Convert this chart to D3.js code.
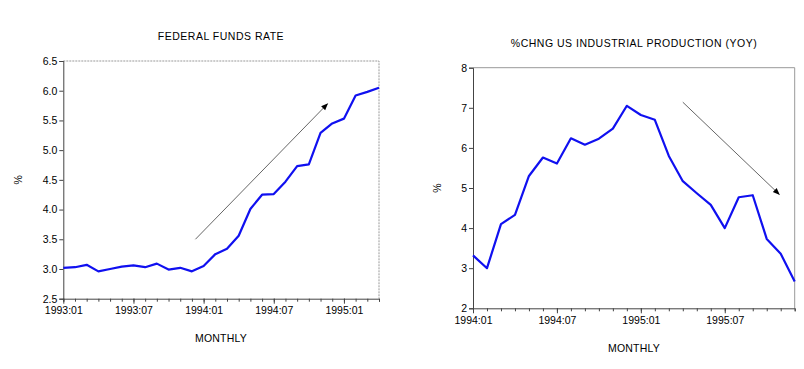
<!DOCTYPE html>
<html><head><meta charset="utf-8">
<script src="https://cdn.jsdelivr.net/npm/d3@7"></script>
<style>body{margin:0;background:#fff}svg{display:block;font-family:"Liberation Sans",Arial,sans-serif}</style>
</head><body><svg id="c" width="804" height="369"></svg>
<script>
// ---- data ----
const ffMonths = ["1993:01","1993:02","1993:03","1993:04","1993:05","1993:06","1993:07","1993:08","1993:09","1993:10","1993:11","1993:12",
  "1994:01","1994:02","1994:03","1994:04","1994:05","1994:06","1994:07","1994:08","1994:09","1994:10","1994:11","1994:12",
  "1995:01","1995:02","1995:03","1995:04"];
const ffValues = [3.02,3.03,3.07,2.96,3.00,3.04,3.06,3.03,3.09,2.99,3.02,2.96,
  3.05,3.25,3.34,3.56,4.01,4.25,4.26,4.47,4.73,4.76,5.29,5.45,
  5.53,5.92,5.98,6.05];
const ffTicksY = [2.5,3.0,3.5,4.0,4.5,5.0,5.5,6.0,6.5];
const ffTickLabelsX = ["1993:01","1993:07","1994:01","1994:07","1995:01"];
const ffArrow = [[11.3,3.5],[22.6,5.78]];   // [month index, value]

const ipMonths = ["1994:01","1994:02","1994:03","1994:04","1994:05","1994:06","1994:07","1994:08","1994:09","1994:10","1994:11","1994:12",
  "1995:01","1995:02","1995:03","1995:04","1995:05","1995:06","1995:07","1995:08","1995:09","1995:10","1995:11","1995:12"];
const ipValues = [3.32,3.00,4.10,4.33,5.30,5.76,5.61,6.24,6.08,6.23,6.48,7.05,
  6.82,6.70,5.80,5.17,4.87,4.58,4.00,4.77,4.82,3.73,3.36,2.67];
const ipTicksY = [2,3,4,5,6,7,8];
const ipTickLabelsX = ["1994:01","1994:07","1995:01","1995:07"];
const ipArrow = [[15.0,7.14],[21.9,4.84]];

const svg = d3.select("#c");
const defs = svg.append("defs");
defs.append("marker").attr("id","ah").attr("viewBox","0 0 10 10").attr("refX",9).attr("refY",5)
  .attr("markerWidth",7).attr("markerHeight",7).attr("orient","auto-start-reverse").attr("markerUnits","userSpaceOnUse")
  .append("path").attr("d","M0,1L10,5L0,9z").attr("fill","#000");

function panel(cfg){
  const g = svg.append("g");
  const x = d3.scaleLinear().domain([0,cfg.months.length-1]).range([cfg.left,cfg.right]);
  const y = d3.scaleLinear().domain(cfg.yDomain).range([cfg.bottom,cfg.top]);
  // frame top/right
  g.append("path").attr("d",`M${cfg.left},${cfg.top}H${cfg.right}V${cfg.bottom}`)
    .attr("fill","none").attr("stroke","#999").attr("stroke-width",1)
    .attr("stroke-dasharray",cfg.dashFrame?"2,1":null);
  // y axis
  const ya = d3.axisLeft(y).tickValues(cfg.ticksY).tickFormat(cfg.yFmt).tickSize(4).tickPadding(2);
  const yg = g.append("g").attr("transform",`translate(${cfg.left},0)`).call(ya);
  yg.select(".domain").attr("stroke","#444");
  yg.selectAll(".tick line").attr("stroke","#444");
  yg.selectAll("text").attr("font-size","10.5px").attr("fill","#000").attr("font-family","Liberation Sans, Arial, sans-serif");
  // x axis minor ticks
  const idx = d3.range(cfg.months.length);
  const xa = d3.axisBottom(x).tickValues(idx).tickSize(3).tickFormat("");
  const xg = g.append("g").attr("transform",`translate(0,${cfg.bottom})`).call(xa);
  xg.select(".domain").attr("stroke","#444");
  xg.selectAll(".tick line").attr("stroke","#444");
  const majors = cfg.labelsX.map(l=>cfg.months.indexOf(l));
  const xm = d3.axisBottom(x).tickValues(majors).tickSize(5).tickPadding(3).tickFormat(i=>cfg.months[i]);
  const xmg = g.append("g").attr("transform",`translate(0,${cfg.bottom})`).call(xm);
  xmg.select(".domain").remove();
  xmg.selectAll(".tick line").attr("stroke","#444");
  xmg.selectAll("text").attr("font-size","10.5px").attr("fill","#000").attr("font-family","Liberation Sans, Arial, sans-serif");
  // line
  g.append("path").datum(cfg.values)
    .attr("d",d3.line().x((d,i)=>x(i)).y(d=>y(d)))
    .attr("fill","none").attr("stroke","#1010f0").attr("stroke-width",2.2).attr("stroke-linejoin","round");
  // arrow
  g.append("line").attr("x1",x(cfg.arrow[0][0])).attr("y1",y(cfg.arrow[0][1]))
    .attr("x2",x(cfg.arrow[1][0])).attr("y2",y(cfg.arrow[1][1]))
    .attr("stroke","#555").attr("stroke-width",0.9).attr("marker-end","url(#ah)");
  // titles
  g.append("text").attr("x",cfg.titleX).attr("y",cfg.titleY).attr("text-anchor","middle")
    .attr("font-size","10.5px").attr("letter-spacing","0.5px").text(cfg.title);
  g.append("text").attr("x",cfg.titleX).attr("y",cfg.xLabelY).attr("text-anchor","middle")
    .attr("font-size","10.5px").attr("letter-spacing","0.2px").text("MONTHLY");
  g.append("text").attr("transform",`translate(${cfg.pctX},${(cfg.top+cfg.bottom)/2}) rotate(-90)`)
    .attr("text-anchor","middle").attr("font-size","10.5px").text("%");
}

panel({months:ffMonths, values:ffValues, ticksY:ffTicksY, labelsX:ffTickLabelsX, arrow:ffArrow,
  yDomain:[2.5,6.5], yFmt:d3.format(".1f"), left:63.3, right:379, top:61, bottom:298.7, dashFrame:true,
  title:"FEDERAL FUNDS RATE", titleX:221, titleY:40, xLabelY:342, pctX:22});
panel({months:ipMonths, values:ipValues, ticksY:ipTicksY, labelsX:ipTickLabelsX, arrow:ipArrow,
  yDomain:[2,8], yFmt:d3.format("d"), left:473, right:794.7, top:67.7, bottom:308.3, dashFrame:false,
  title:"%CHNG US INDUSTRIAL PRODUCTION (YOY)", titleX:634, titleY:47, xLabelY:352, pctX:441});
</script></body></html>
